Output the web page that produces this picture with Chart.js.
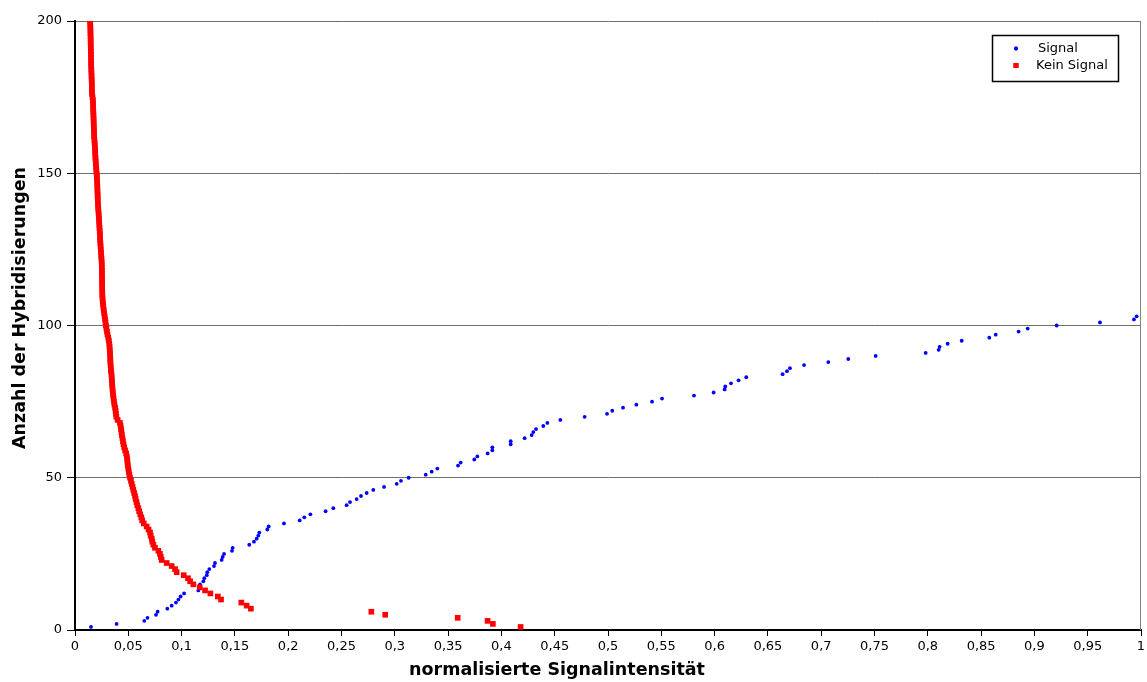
<!DOCTYPE html>
<html>
<head>
<meta charset="utf-8">
<script src="https://cdn.jsdelivr.net/npm/chart.js@4.4.1/dist/chart.umd.min.js"></script>
<style>
  html, body { margin: 0; padding: 0; background: #fff; }
  #wrap { width: 1147px; height: 682px; position: relative; }
</style>
</head>
<body>
<div id="wrap"><canvas id="c"></canvas></div>
<script>
// Probes with a detected signal: normalised intensity vs. number of hybridisations
const signalIntensity = [
  0.015, 0.039, 0.065, 0.068, 0.076, 0.0775, 0.0866, 0.0907, 0.0947, 0.097,
  0.0991, 0.1023, 0.1157, 0.1166, 0.1173, 0.1204, 0.1213, 0.1236, 0.1241, 0.126,
  0.1304, 0.1313, 0.1376, 0.1385, 0.1398, 0.1473, 0.1479, 0.1635, 0.1679, 0.1704,
  0.172, 0.1729, 0.1804, 0.1817, 0.196, 0.2108, 0.2151, 0.2208, 0.2351, 0.2423,
  0.2548, 0.258, 0.2642, 0.2683, 0.2736, 0.2798, 0.2899, 0.3018, 0.3058, 0.313,
  0.329, 0.3346, 0.3399, 0.3593, 0.3618, 0.3746, 0.3774, 0.3871, 0.3915, 0.3915,
  0.4087, 0.4087, 0.4218, 0.4284, 0.4299, 0.4325, 0.4393, 0.4431, 0.4553, 0.4781,
  0.4991, 0.504, 0.5141, 0.5266, 0.5413, 0.5507, 0.5807, 0.5991, 0.6094, 0.61,
  0.6154, 0.6225, 0.6297, 0.6638, 0.6679, 0.6707, 0.6839, 0.7067, 0.7254, 0.7511,
  0.798, 0.8102, 0.8111, 0.8186, 0.8318, 0.8577, 0.8637, 0.8852, 0.8937, 0.9209,
  0.9615, 0.9934, 0.9959
];
const signalCount = [
  1, 2, 3, 4, 5, 6, 7, 8, 9, 10,
  11, 12, 13, 14, 15, 16, 17, 18, 19, 20,
  21, 22, 23, 24, 25, 26, 27, 28, 29, 30,
  31, 32, 33, 34, 35, 36, 37, 38, 39, 40,
  41, 42, 43, 44, 45, 46, 47, 48, 49, 50,
  51, 52, 53, 54, 55, 56, 57, 58, 59, 60,
  61, 62, 63, 64, 65, 66, 67, 68, 69, 70,
  71, 72, 73, 74, 75, 76, 77, 78, 79, 80,
  81, 82, 83, 84, 85, 86, 87, 88, 89, 90,
  91, 92, 93, 94, 95, 96, 97, 98, 99, 100,
  101, 102, 103
];

// Probes without signal
const keinIntensity = [
  0.418, 0.392, 0.387, 0.359, 0.291, 0.278, 0.165, 0.161, 0.156, 0.137,
  0.134, 0.127, 0.122, 0.117, 0.111, 0.108, 0.106, 0.102, 0.0954, 0.0938,
  0.0907, 0.086, 0.0813, 0.0805, 0.0797, 0.0782, 0.075, 0.0735, 0.0725, 0.072,
  0.071, 0.0704, 0.069, 0.0672, 0.0645, 0.063, 0.0622, 0.0612, 0.0602, 0.0594,
  0.0584, 0.0577, 0.0569, 0.0563, 0.0555, 0.0547, 0.054, 0.0532, 0.0525, 0.0516,
  0.051, 0.0505, 0.05, 0.0496, 0.0492, 0.049, 0.0486, 0.048, 0.047, 0.0462,
  0.0455, 0.045, 0.0445, 0.044, 0.0436, 0.0432, 0.0428, 0.0422, 0.04, 0.0388,
  0.0384, 0.0381, 0.0376, 0.037, 0.0366, 0.0362, 0.0358, 0.0355, 0.0352, 0.035,
  0.0348, 0.0346, 0.0344, 0.0342, 0.0338, 0.0336, 0.0334, 0.0332, 0.0331, 0.033,
  0.0328, 0.0326, 0.0324, 0.0322, 0.0318, 0.0312, 0.0305, 0.03, 0.0295, 0.029,
  0.0286, 0.0282, 0.0278, 0.0274, 0.027, 0.0266, 0.0263, 0.026, 0.0258, 0.0256,
  0.0256, 0.0255, 0.0255, 0.0254, 0.0254, 0.0253, 0.0253, 0.0252, 0.0252, 0.0251,
  0.025, 0.0248, 0.0246, 0.0244, 0.0242, 0.024, 0.0238, 0.0236, 0.0235, 0.0234,
  0.0232, 0.023, 0.0228, 0.0227, 0.0225, 0.0223, 0.0221, 0.0219, 0.0217, 0.0215,
  0.0214, 0.0213, 0.0212, 0.0211, 0.021, 0.0209, 0.0208, 0.0206, 0.0205, 0.0203,
  0.02, 0.0198, 0.0196, 0.0194, 0.0192, 0.019, 0.0189, 0.0188, 0.0186, 0.0184,
  0.0182, 0.018, 0.0179, 0.0178, 0.0177, 0.0176, 0.0175, 0.0174, 0.0173, 0.0172,
  0.0171, 0.017, 0.0169, 0.0168, 0.0164, 0.016, 0.0159, 0.0158, 0.0158, 0.0157,
  0.0156, 0.0155, 0.0154, 0.0153, 0.0152, 0.0151, 0.0151, 0.015, 0.015, 0.0149,
  0.0148, 0.0148, 0.0147, 0.0147, 0.0146, 0.0145, 0.0145, 0.0144, 0.0143, 0.0142
];
const keinCount = [
  1, 2, 3, 4, 5, 6, 7, 8, 9, 10,
  11, 12, 13, 14, 15, 16, 17, 18, 19, 20,
  21, 22, 23, 24, 25, 26, 27, 28, 29, 30,
  31, 32, 33, 34, 35, 36, 37, 38, 39, 40,
  41, 42, 43, 44, 45, 46, 47, 48, 49, 50,
  51, 52, 53, 54, 55, 56, 57, 58, 59, 60,
  61, 62, 63, 64, 65, 66, 67, 68, 69, 70,
  71, 72, 73, 74, 75, 76, 77, 78, 79, 80,
  81, 82, 83, 84, 85, 86, 87, 88, 89, 90,
  91, 92, 93, 94, 95, 96, 97, 98, 99, 100,
  101, 102, 103, 104, 105, 106, 107, 108, 109, 110,
  111, 112, 113, 114, 115, 116, 117, 118, 119, 120,
  121, 122, 123, 124, 125, 126, 127, 128, 129, 130,
  131, 132, 133, 134, 135, 136, 137, 138, 139, 140,
  141, 142, 143, 144, 145, 146, 147, 148, 149, 150,
  151, 152, 153, 154, 155, 156, 157, 158, 159, 160,
  161, 162, 163, 164, 165, 166, 167, 168, 169, 170,
  171, 172, 173, 174, 175, 176, 177, 178, 179, 180,
  181, 182, 183, 184, 185, 186, 187, 188, 189, 190,
  191, 192, 193, 194, 195, 196, 197, 198, 199, 200
];

const xTitle = 'normalisierte Signalintensität';
const yTitle = 'Anzahl der Hybridisierungen';
const seriesNames = ['Signal', 'Kein Signal'];

const toPoints = (xs, ys) => xs.map((x, i) => ({ x: x, y: ys[i] }));
const FONT = '"DejaVu Sans", sans-serif';

// axis titles, right frame line and boxed legend
const decorations = {
  id: 'decorations',
  afterDraw(chart) {
    const ctx = chart.ctx;
    const a = chart.chartArea;
    ctx.save();
    // right frame
    ctx.strokeStyle = '#808080';
    ctx.lineWidth = 1;
    ctx.beginPath();
    ctx.moveTo(Math.round(a.right) - 0.5, a.top);
    ctx.lineTo(Math.round(a.right) - 0.5, a.bottom);
    ctx.stroke();

    // axis titles
    ctx.fillStyle = '#000';
    ctx.font = 'bold 17.5px ' + FONT;
    ctx.textAlign = 'center';
    ctx.textBaseline = 'middle';
    ctx.fillText(xTitle, 557, 670);
    ctx.save();
    ctx.translate(20, 308);
    ctx.rotate(-Math.PI / 2);
    ctx.fillText(yTitle, 0, 0);
    ctx.restore();

    // legend
    const bx = 992.5, by = 35.5, bw = 126, bh = 46;
    ctx.fillStyle = '#fff';
    ctx.fillRect(bx, by, bw, bh);
    ctx.strokeStyle = '#000';
    ctx.lineWidth = 1.5;
    ctx.strokeRect(bx, by, bw, bh);
    const ds = chart.data.datasets;
    ctx.font = '13px ' + FONT;
    ctx.textAlign = 'left';
    ctx.fillStyle = ds[0].backgroundColor;
    ctx.beginPath();
    Chart.helpers.drawPoint(ctx, {
      pointStyle: ds[0].pointStyle, radius: ds[0].pointRadius, borderWidth: 0
    }, 1016, 48.5);
    ctx.fill();
    ctx.fillStyle = '#000';
    ctx.fillText(ds[0].label, 1038, 48.5);
    ctx.fillStyle = ds[1].backgroundColor;
    ctx.beginPath();
    Chart.helpers.drawPoint(ctx, {
      pointStyle: ds[1].pointStyle, radius: 3.5, borderWidth: 0
    }, 1016, 65.5);
    ctx.fill();
    ctx.fillStyle = '#000';
    ctx.fillText(ds[1].label, 1036, 65.5);
    ctx.restore();
  }
};

new Chart(document.getElementById('c'), {
  type: 'scatter',
  data: {
    datasets: [
      {
        label: seriesNames[0],
        data: toPoints(signalIntensity, signalCount),
        pointStyle: 'circle',
        pointRadius: 1.9,
        pointHoverRadius: 1.9,
        borderWidth: 0,
        backgroundColor: '#0000ff',
        borderColor: '#0000ff',
        order: 2,
        clip: 0
      },
      {
        label: seriesNames[1],
        data: toPoints(keinIntensity, keinCount),
        pointStyle: 'rect',
        pointRadius: 4,
        pointHoverRadius: 4,
        borderWidth: 0,
        backgroundColor: '#ff0000',
        borderColor: '#ff0000',
        order: 1,
        clip: 0
      }
    ]
  },
  options: {
    responsive: true,
    maintainAspectRatio: false,
    animation: false,
    events: [],
    layout: { padding: { top: 21, right: 6, left: 0, bottom: 0 } },
    plugins: {
      legend: { display: false },
      tooltip: { enabled: false }
    },
    scales: {
      x: {
        type: 'linear',
        min: 0,
        max: 1,
        afterFit(scale) {
          scale.height = 52;
          scale.paddingLeft = 0;
          scale.paddingRight = 0;
        },
        border: { display: true, color: '#000', width: 2 },
        grid: {
          drawOnChartArea: false,
          drawTicks: true,
          tickLength: 6,
          tickColor: '#000',
          tickWidth: 1
        },
        ticks: {
          stepSize: 0.05,
          autoSkip: false,
          maxRotation: 0,
          padding: 3,
          color: '#000',
          font: { family: FONT, size: 13 },
          callback: (v) => String(Math.round(v * 100) / 100).replace('.', ',')
        }
      },
      y: {
        type: 'linear',
        min: 0,
        max: 200,
        afterFit(scale) {
          scale.width = 75;
          scale.paddingTop = 0;
          scale.paddingBottom = 0;
        },
        border: { display: true, color: '#000', width: 2 },
        grid: {
          color: '#6e6e6e',
          lineWidth: 1,
          drawTicks: true,
          tickLength: 8,
          tickColor: '#000',
          tickWidth: 1
        },
        ticks: {
          stepSize: 50,
          padding: 5,
          color: '#000',
          font: { family: FONT, size: 13 }
        }
      }
    }
  },
  plugins: [decorations]
});
</script>
</body>
</html>
